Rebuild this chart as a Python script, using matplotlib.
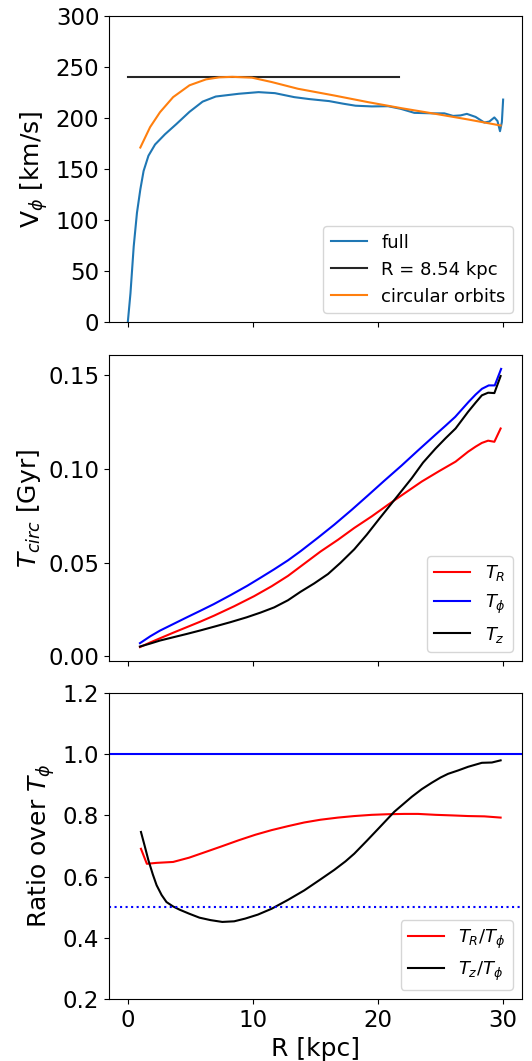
import matplotlib
matplotlib.use("Agg")
import matplotlib.pyplot as plt

# ---- Panel 1: rotation curve ----
r_full = [0.0, 0.21, 0.47, 0.73, 1.0, 1.26, 1.65, 2.18, 2.97, 3.88, 4.93, 5.98, 7.03, 8.87,
          10.45, 11.76, 13.3, 14.5, 16.1, 17.2, 18.2, 19.5, 20.8, 21.8, 22.9, 24.4, 25.3, 26.0,
          26.6, 27.1, 27.8, 28.5, 28.9, 29.3, 29.55, 29.75, 29.9, 30.0]
v_full = [0.0, 28, 74, 107, 130, 148, 163, 174, 184, 194, 206, 216, 221, 223.7,
          225.3, 224.3, 220.4, 218.5, 216.5, 214, 212, 211.3, 211.5, 209, 205, 204.5, 204.5, 202,
          202.5, 204, 201, 195.5, 196.5, 200.5, 197, 187, 196, 218]

r_ref = [0.0, 21.7]
v_ref = [240, 240]

r_circ = [1.0, 1.78, 2.57, 3.62, 4.93, 6.25, 7.3, 8.35, 9.92, 11.5, 13.6, 16.5, 19.2, 21.9,
          24.6, 27.2, 29.8]
v_circ = [171, 191, 205.6, 220.4, 232, 237.8, 239.8, 240.3, 239.5, 235.2, 228.6, 222, 215.5,
          209.5, 204, 198.5, 192.6]

# ---- Panel 2: periods ----
r_tphi = [0.97, 1.8, 2.57, 3.6, 4.72, 5.8, 6.86, 8.2, 9.54, 10.6, 11.69, 12.8, 13.83, 15.2,
          16.51, 17.9, 19.2, 20.5, 21.88, 23.2, 24.56, 25.4, 26.17, 27.24, 27.8, 28.31, 28.85,
          29.33, 29.84]
t_phi = [0.0071, 0.0108, 0.0138, 0.0172, 0.0209, 0.0244, 0.0279, 0.0327, 0.0377, 0.0420,
         0.0465, 0.0513, 0.0563, 0.0634, 0.0704, 0.0783, 0.0860, 0.0938, 0.1019, 0.1100,
         0.1182, 0.1232, 0.1279, 0.1359, 0.1398, 0.1429, 0.1447, 0.1447, 0.1535]

r_tr = [0.97, 1.8, 2.57, 3.6, 4.7, 5.8, 6.9, 8.5, 10.1, 11.5, 12.8, 14.1, 15.4, 16.8, 18.1,
        19.5, 20.8, 22.1, 23.5, 24.9, 26.2, 27.2, 27.8, 28.3, 28.8, 29.3, 29.8]
t_r = [0.005, 0.0075, 0.0097, 0.0126, 0.0156, 0.0186, 0.0218, 0.0268, 0.0322, 0.0375,
       0.0430, 0.0495, 0.0560, 0.0623, 0.0686, 0.0748, 0.0810, 0.0870, 0.0934, 0.0990,
       0.1040, 0.1093, 0.1120, 0.1140, 0.1152, 0.1146, 0.1217]

r_tz = [0.97, 1.8, 2.57, 3.6, 4.7, 5.8, 6.9, 8.2, 9.5, 10.6, 11.7, 12.8, 13.8, 14.9, 16.0,
        17.0, 18.1, 19.1, 20.1, 21.3, 22.7, 23.6, 24.6, 25.4, 26.2, 27.2, 27.8, 28.3, 28.8,
        29.3, 29.8]
t_z = [0.0053, 0.0069, 0.0085, 0.0102, 0.012, 0.0139, 0.0159, 0.0183, 0.0209, 0.0234,
       0.0262, 0.0300, 0.0345, 0.0390, 0.0440, 0.0500, 0.0572, 0.0650, 0.0735, 0.0835,
       0.0952, 0.1035, 0.1110, 0.1165, 0.1217, 0.1306, 0.1355, 0.1394, 0.1408, 0.1406, 0.1497]

# ---- Panel 3: ratios ----
r_ratio_r = [1.05, 1.52, 2.3, 3.62, 4.9, 6.24, 7.5, 8.87, 10.2, 11.49, 12.8, 14.1, 15.4, 16.8,
             18.1, 19.5, 20.8, 22.1, 23.2, 24.6, 26.0, 27.2, 28.5, 29.8]
ratio_r = [0.691, 0.642, 0.645, 0.648, 0.662, 0.681, 0.699, 0.719, 0.737, 0.752, 0.765, 0.777,
           0.786, 0.793, 0.798, 0.802, 0.804, 0.805, 0.805, 0.802, 0.800, 0.798, 0.797, 0.793]

r_ratio_z = [1.05, 1.35, 1.65, 2.0, 2.3, 2.7, 3.09, 3.6, 4.14, 4.9, 5.72, 6.6, 7.55, 8.5, 9.39,
             10.4, 11.49, 12.8, 14.1, 15.4, 16.5, 17.4, 18.1, 19.1, 20.1, 21.3, 22.7, 23.5,
             24.3, 25.0, 25.6, 26.4, 27.2, 28.3, 29.1, 29.8]
ratio_z = [0.746, 0.700, 0.653, 0.607, 0.572, 0.540, 0.517, 0.503, 0.492, 0.479, 0.466, 0.458,
           0.452, 0.454, 0.463, 0.476, 0.495, 0.524, 0.555, 0.591, 0.622, 0.650, 0.675, 0.717,
           0.760, 0.812, 0.861, 0.886, 0.907, 0.924, 0.936, 0.947, 0.959, 0.972, 0.973, 0.980]

ref_ratio_solid = 1.0
ref_ratio_dotted = 0.5

TICK_FS = 16.5
LABEL_FS = 18
LEG_FS = 13

fig = plt.figure(figsize=(5.32, 10.61), dpi=100)
left, right = 0.205, 0.981
ax1 = fig.add_axes([left, 0.6965, right - left, 0.985 - 0.6965])
ax2 = fig.add_axes([left, 0.377, right - left, 0.6654 - 0.377], sharex=ax1)
ax3 = fig.add_axes([left, 0.0584, right - left, 0.3468 - 0.0584], sharex=ax1)

ax1.plot(r_full, v_full, color='C0', lw=1.5, label='full')
ax1.plot(r_ref, v_ref, color='k', lw=1.5, alpha=0.85, label='R = 8.54 kpc')
ax1.plot(r_circ, v_circ, color='C1', lw=1.5, label='circular orbits')
ax1.set_ylim(0, 300)
ax1.set_yticks([0, 50, 100, 150, 200, 250, 300])
ax1.set_ylabel(r'V$_\phi$ [km/s]', fontsize=LABEL_FS)
ax1.legend(loc='lower right', fontsize=LEG_FS)

ax2.plot(r_tr, t_r, color='r', lw=1.5, label=r'$T_R$')
ax2.plot(r_tphi, t_phi, color='b', lw=1.5, label=r'$T_\phi$')
ax2.plot(r_tz, t_z, color='k', lw=1.5, label=r'$T_z$')
ax2.set_yticks([0.0, 0.05, 0.10, 0.15])
ax2.set_yticklabels(['0.00', '0.05', '0.10', '0.15'])
ax2.set_ylabel(r'$T_{circ}$ [Gyr]', fontsize=LABEL_FS)
ax2.legend(loc='lower right', fontsize=LEG_FS)

ax3.plot(r_ratio_r, ratio_r, color='r', lw=1.5, label=r'$T_R/T_\phi$')
ax3.plot(r_ratio_z, ratio_z, color='k', lw=1.5, label=r'$T_z/T_\phi$')
ax3.axhline(ref_ratio_solid, color='b', lw=1.5)
ax3.axhline(ref_ratio_dotted, color='b', lw=1.5, ls=':')
ax3.set_ylim(0.2, 1.2)
ax3.set_yticks([0.2, 0.4, 0.6, 0.8, 1.0, 1.2])
ax3.set_ylabel(r'Ratio over $T_\phi$', fontsize=LABEL_FS)
ax3.set_xlabel('R [kpc]', fontsize=LABEL_FS)
ax3.legend(loc='lower right', fontsize=LEG_FS)

ax1.set_xlim(-1.5, 31.5)
ax3.set_xticks([0, 10, 20, 30])
for ax in (ax1, ax2, ax3):
    ax.tick_params(labelsize=TICK_FS)
for ax in (ax1, ax2):
    plt.setp(ax.get_xticklabels(), visible=False)

fig.savefig('out.png', dpi=100)
